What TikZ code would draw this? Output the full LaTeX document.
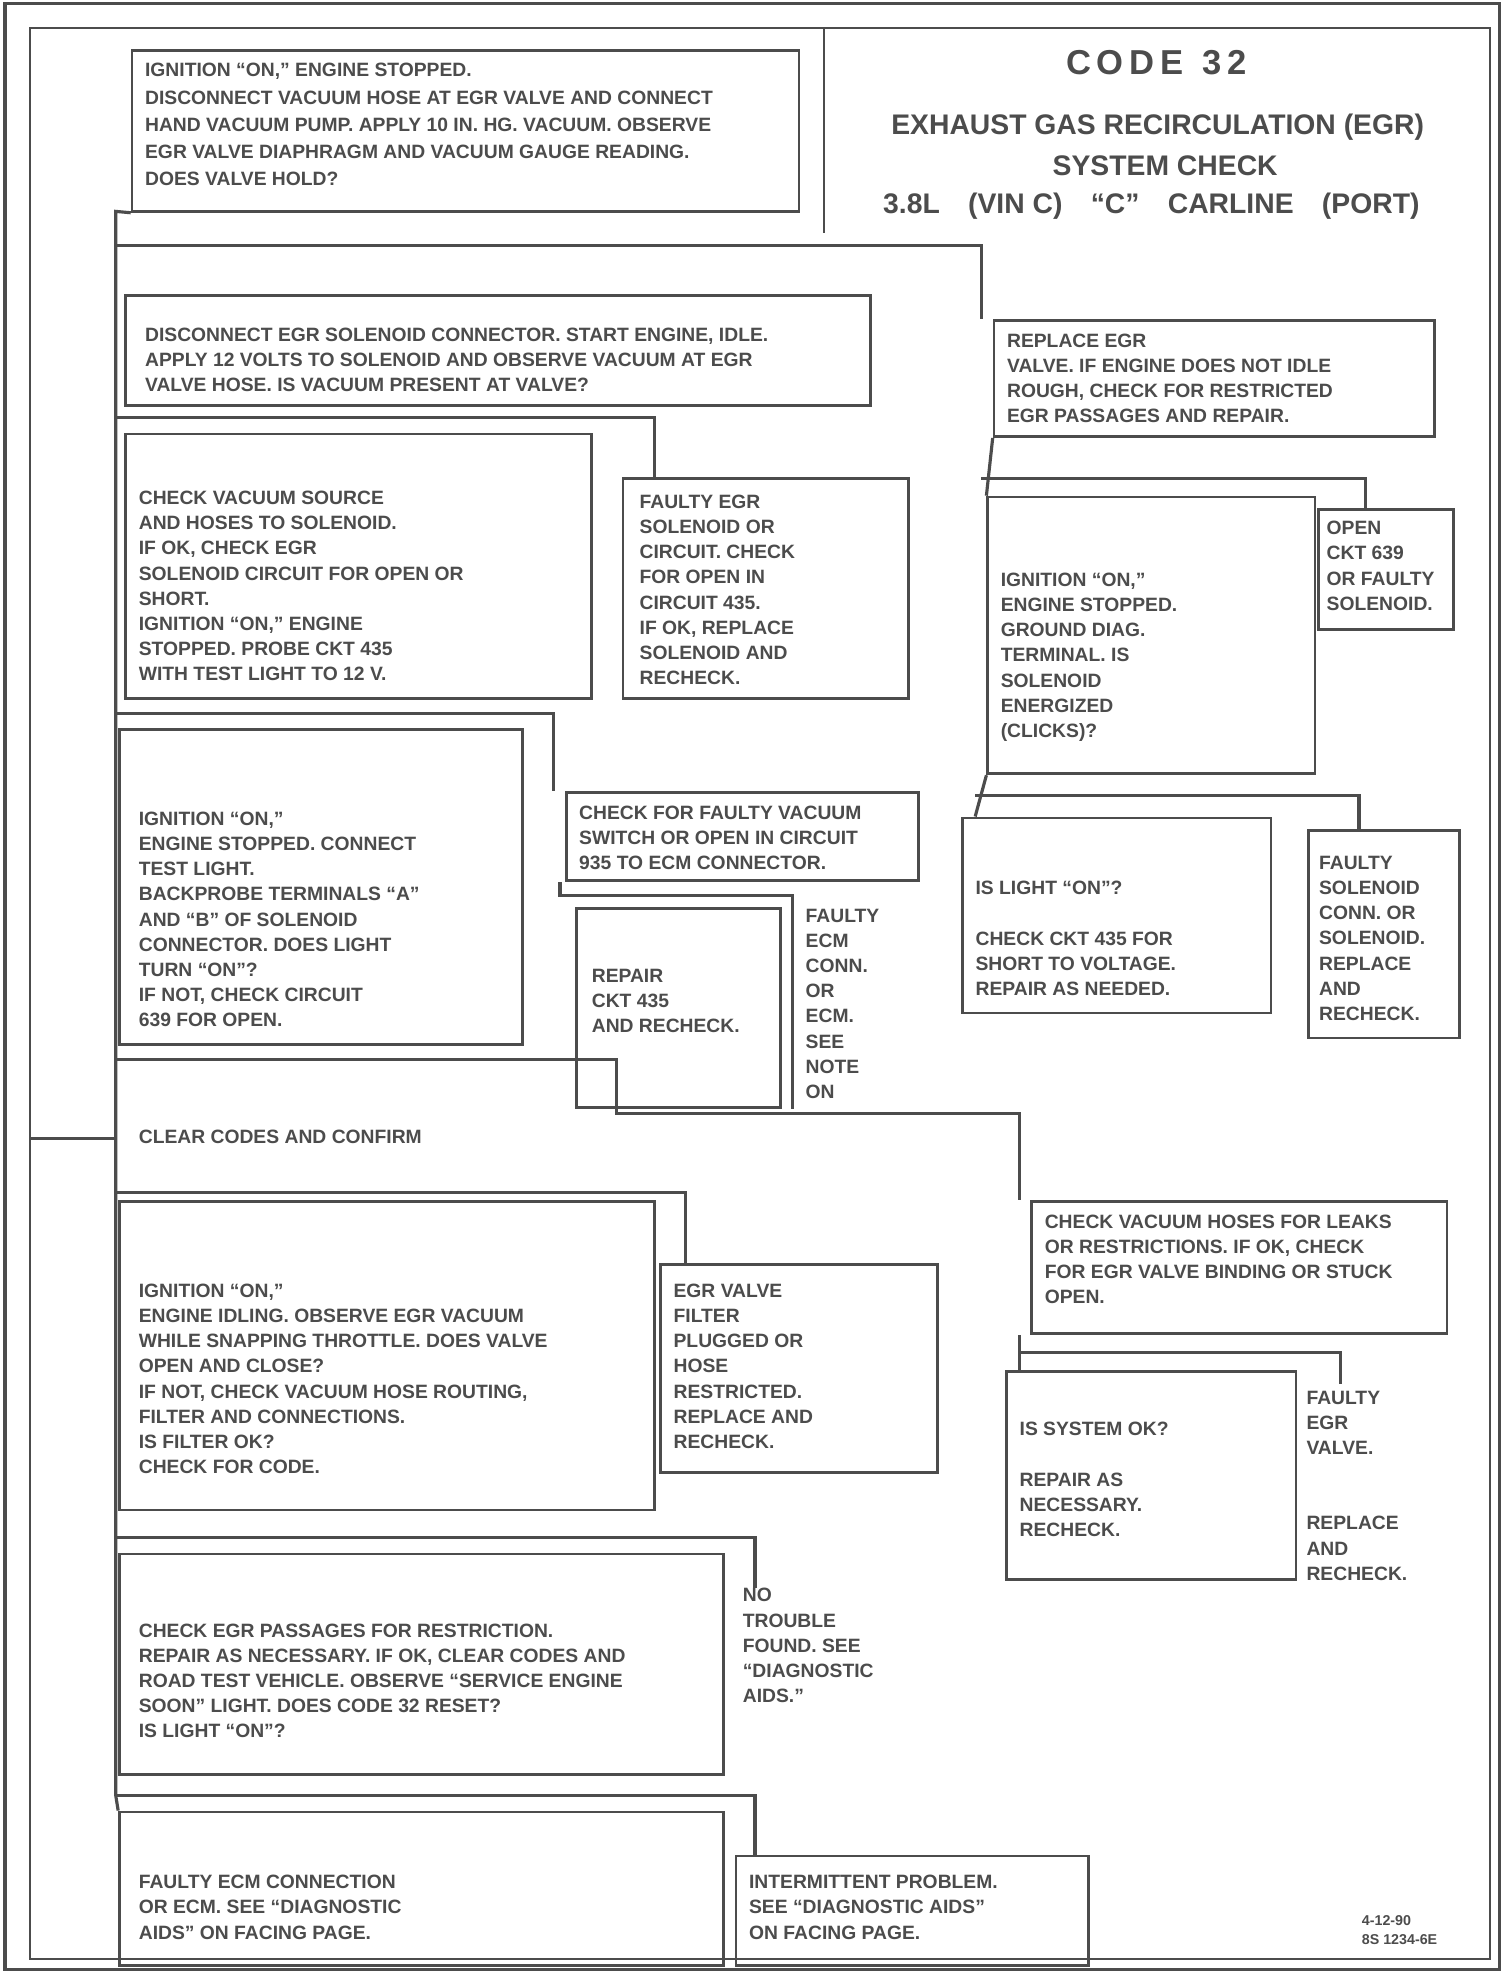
\documentclass[tikz,border=0pt]{standalone}
\usepackage{fontspec}
\setmainfont{Liberation Sans}
\usetikzlibrary{fit}
\definecolor{ink}{gray}{0.3}
\begin{document}
\begin{tikzpicture}[x=0.6pt,y=-0.6pt,
 ln/.style={draw=ink, line width=1.5pt},
 box/.style={draw=ink, line width=1.3pt, inner sep=0pt},
 txt/.style={font=\bfseries\fontsize{9.2}{12}\selectfont, align=left, anchor=north west, inner sep=0pt, text=ink},
 ttl/.style={font=\bfseries\fontsize{13.5}{16}\selectfont, text=ink, inner sep=0pt}]
\useasboundingbox (0,0) rectangle (1196,1568);
\fill[white] (0,0) rectangle (1196,1568);
\draw[ln] (4,3) rectangle (1192,1565);
\draw[ink, line width=1pt] (24,22) rectangle (1184,1557);
\draw[ink, line width=1pt] (655,22) -- (655,185);

% boxes
\node[box, fit={(105,40) (635,168)}] (A) {};
\node[box, fit={(100,235) (692,322)}] (B) {};
\node[box, fit={(790,255) (1140,347)}] (R1) {};
\node[box, fit={(100,345) (470,555)}] (C) {};
\node[box, fit={(495,380) (722,555)}] (C2) {};
\node[box, fit={(785,395) (1045,615)}] (R2) {};
\node[box, fit={(1048,405) (1155,500)}] (R2b) {};
\node[box, fit={(95,580) (415,830)}] (D) {};
\node[box, fit={(450,630) (730,700)}] (D2) {};
\node[box, fit={(458,722) (620,880)}] (D3) {};
\node[box, fit={(765,650) (1010,805)}] (R3) {};
\node[box, fit={(1040,660) (1160,825)}] (R3b) {};
\node[box, fit={(95,955) (520,1200)}] (F) {};
\node[box, fit={(525,1005) (745,1170)}] (F2) {};
\node[box, fit={(820,955) (1150,1060)}] (R4) {};
\node[box, fit={(800,1090) (1030,1255)}] (R5) {};
\node[box, fit={(95,1235) (575,1410)}] (G) {};
\node[box, fit={(95,1440) (575,1562)}] (H) {};
\node[box, fit={(585,1475) (865,1562)}] (H2) {};

% title
\node[ttl, font=\bfseries\fontsize{16.5}{19}\selectfont] (T1) at (919,50) {C\,O\,D\,E\ \ 3\,2};
\node[ttl] (T2) at (920,101) {EXHAUST GAS RECIRCULATION (EGR)};
\node[ttl] (T3) at (926,132) {SYSTEM CHECK};
\node[ttl] (T4) at (915,164) {3.8L\quad(VIN C)\quad``C''\quad CARLINE\quad(PORT)};

% texts
\node[txt, font=\bfseries\fontsize{9.2}{13}\selectfont] (tA) at (115,50) {IGNITION ``ON,'' ENGINE STOPPED.\\
DISCONNECT VACUUM HOSE AT EGR VALVE AND CONNECT\\
HAND VACUUM PUMP. APPLY 10 IN. HG. VACUUM. OBSERVE\\
EGR VALVE DIAPHRAGM AND VACUUM GAUGE READING.\\
DOES VALVE HOLD?};
\node[txt] (tB) at (115,260) {DISCONNECT EGR SOLENOID CONNECTOR. START ENGINE, IDLE.\\
APPLY 12 VOLTS TO SOLENOID AND OBSERVE VACUUM AT EGR\\
VALVE HOSE. IS VACUUM PRESENT AT VALVE?};
\node[txt] (tR1) at (800,265) {REPLACE EGR\\
VALVE. IF ENGINE DOES NOT IDLE\\
ROUGH, CHECK FOR RESTRICTED\\
EGR PASSAGES AND REPAIR.};
\node[txt] (tC) at (110,390) {CHECK VACUUM SOURCE\\
AND HOSES TO SOLENOID.\\
IF OK, CHECK EGR\\
SOLENOID CIRCUIT FOR OPEN OR\\
SHORT.\\
IGNITION ``ON,'' ENGINE\\
STOPPED. PROBE CKT 435\\
WITH TEST LIGHT TO 12 V.};
\node[txt] (tC2) at (508,393) {FAULTY EGR\\
SOLENOID OR\\
CIRCUIT. CHECK\\
FOR OPEN IN\\
CIRCUIT 435.\\
IF OK, REPLACE\\
SOLENOID AND\\
RECHECK.};
\node[txt] (tR2) at (795,455) {IGNITION ``ON,''\\
ENGINE STOPPED.\\
GROUND DIAG.\\
TERMINAL. IS\\
SOLENOID\\
ENERGIZED\\
(CLICKS)?};
\node[txt] (tR2b) at (1054,414) {OPEN\\
CKT 639\\
OR FAULTY\\
SOLENOID.};
\node[txt] (tD) at (110,645) {IGNITION ``ON,''\\
ENGINE STOPPED. CONNECT\\
TEST LIGHT.\\
BACKPROBE TERMINALS ``A''\\
AND ``B'' OF SOLENOID\\
CONNECTOR. DOES LIGHT\\
TURN ``ON''?\\
IF NOT, CHECK CIRCUIT\\
639 FOR OPEN.};
\node[txt] (tD2) at (460,640) {CHECK FOR FAULTY VACUUM\\
SWITCH OR OPEN IN CIRCUIT\\
935 TO ECM CONNECTOR.};
\node[txt] (tD3) at (470,770) {REPAIR\\
CKT 435\\
AND RECHECK.};
\node[txt] (tD3b) at (640,722) {FAULTY\\
ECM\\
CONN.\\
OR\\
ECM.\\
SEE\\
NOTE\\
ON};
\node[txt] (tR3) at (775,700) {IS LIGHT ``ON''?\\
\\
CHECK CKT 435 FOR\\
SHORT TO VOLTAGE.\\
REPAIR AS NEEDED.};
\node[txt] (tR3b) at (1048,680) {FAULTY\\
SOLENOID\\
CONN. OR\\
SOLENOID.\\
REPLACE\\
AND\\
RECHECK.};
\node[txt] (tE) at (110,898) {CLEAR CODES AND CONFIRM};
\node[txt] (tF) at (110,1020) {IGNITION ``ON,''\\
ENGINE IDLING. OBSERVE EGR VACUUM\\
WHILE SNAPPING THROTTLE. DOES VALVE\\
OPEN AND CLOSE?\\
IF NOT, CHECK VACUUM HOSE ROUTING,\\
FILTER AND CONNECTIONS.\\
IS FILTER OK?\\
CHECK FOR CODE.};
\node[txt] (tF2) at (535,1020) {EGR VALVE\\
FILTER\\
PLUGGED OR\\
HOSE\\
RESTRICTED.\\
REPLACE AND\\
RECHECK.};
\node[txt] (tR4) at (830,965) {CHECK VACUUM HOSES FOR LEAKS\\
OR RESTRICTIONS. IF OK, CHECK\\
FOR EGR VALVE BINDING OR STUCK\\
OPEN.};
\node[txt] (tR5) at (810,1130) {IS SYSTEM OK?\\
\\
REPAIR AS\\
NECESSARY.\\
RECHECK.};
\node[txt] (tR5b) at (1038,1105) {FAULTY\\
EGR\\
VALVE.\\
\\
\\
REPLACE\\
AND\\
RECHECK.};
\node[txt] (tG) at (110,1290) {CHECK EGR PASSAGES FOR RESTRICTION.\\
REPAIR AS NECESSARY. IF OK, CLEAR CODES AND\\
ROAD TEST VEHICLE. OBSERVE ``SERVICE ENGINE\\
SOON'' LIGHT. DOES CODE 32 RESET?\\
IS LIGHT ``ON''?};
\node[txt] (tG2) at (590,1262) {NO\\
TROUBLE\\
FOUND. SEE\\
``DIAGNOSTIC\\
AIDS.''};
\node[txt] (tH) at (110,1490) {FAULTY ECM CONNECTION\\
OR ECM. SEE ``DIAGNOSTIC\\
AIDS'' ON FACING PAGE.};
\node[txt] (tH2) at (595,1490) {INTERMITTENT PROBLEM.\\
SEE ``DIAGNOSTIC AIDS''\\
ON FACING PAGE.};
\node[txt, font=\bfseries\fontsize{6.8}{9}\selectfont] (tN) at (1082,1522) {4-12-90\\
8S 1234-6E};

% connectors
\coordinate (j0) at (92,168);
\coordinate (j1) at (92,195);  \coordinate (k1) at (780,195);
\coordinate (j2) at (92,332);  \coordinate (k2) at (520,332);
\coordinate (j3) at (92,567);  \coordinate (k3) at (440,567);
\coordinate (j5) at (92,842);  \coordinate (k5a) at (490,842); \coordinate (k5b) at (490,885); \coordinate (k5c) at (810,885);
\coordinate (j6) at (92,948);  \coordinate (k6) at (545,948);
\coordinate (j7) at (92,1222); \coordinate (k7) at (600,1222);
\coordinate (j8) at (92,1427); \coordinate (k8) at (600,1427);
\coordinate (jE) at (24,905);
\coordinate (m1) at (780,380); \coordinate (n1) at (1085,380);
\coordinate (m2) at (775,632); \coordinate (n2) at (1080,632);
\coordinate (m3) at (810,1075); \coordinate (n3) at (1065,1075);
\coordinate (p1) at (445,712); \coordinate (q1) at (630,712);

\draw[ln] (A.south west) -- (j0) -- (j8) -- (H.north west);
\draw[ln] (j1) -- (k1) -- (k1 |- R1.north);
\draw[ln] (j2) -- (k2) -- (k2 |- C2.north);
\draw[ln] (j3) -- (k3) -- (k3 |- D2.north);
\draw[ln] (j5) -- (k5a) -- (k5b) -- (k5c) -- (k5c |- R4.north);
\draw[ln] (j6) -- (k6) -- (k6 |- F2.north);
\draw[ln] (j7) -- (k7) -- (k7 |- tG2.north);
\draw[ln] (j8) -- (k8) -- (k8 |- H2.north);
\draw[ln] (jE) -- (j0 |- jE);
\draw[ln] (R1.south west) -- (R2.north west);
\draw[ln] (m1) -- (n1) -- (n1 |- R2b.north);
\draw[ln] (R2.south west) -- (R3.north west -| m2);
\draw[ln] (m2) -- (n2) -- (n2 |- R3b.north);
\draw[ln] (R4.south west -| m3) -- (R5.north west -| m3);
\draw[ln] (m3) -- (n3) -- ([yshift=3pt]n3 |- tR5b.north);
\draw[ln] (D2.south west -| p1) -- (p1) -- (q1) -- (q1 |- D3.south);
\end{tikzpicture}
\end{document}
